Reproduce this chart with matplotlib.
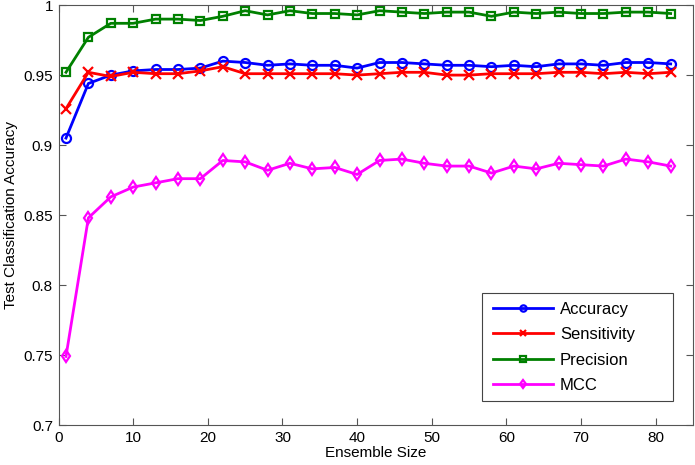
import matplotlib
matplotlib.use('Agg')
import matplotlib.pyplot as plt
from matplotlib.patches import Rectangle

plt.rcParams['font.family'] = ['Liberation Sans', 'DejaVu Sans']

# ensemble sizes
ensemble_size = [1, 4, 7, 10, 13, 16, 19, 22, 25, 28, 31, 34, 37, 40,
                 43, 46, 49, 52, 55, 58, 61, 64, 67, 70, 73, 76, 79, 82]

accuracy = [0.905, 0.944, 0.950, 0.953, 0.954, 0.954, 0.955, 0.960, 0.959, 0.957,
            0.958, 0.957, 0.957, 0.955, 0.959, 0.959, 0.958, 0.957, 0.957, 0.956,
            0.957, 0.956, 0.958, 0.958, 0.957, 0.959, 0.959, 0.958]

sensitivity = [0.926, 0.952, 0.949, 0.952, 0.951, 0.951, 0.953, 0.956, 0.951, 0.951,
               0.951, 0.951, 0.951, 0.950, 0.951, 0.952, 0.952, 0.950, 0.950, 0.951,
               0.951, 0.951, 0.952, 0.952, 0.951, 0.952, 0.951, 0.952]

precision = [0.952, 0.977, 0.987, 0.987, 0.990, 0.990, 0.989, 0.992, 0.996, 0.993,
             0.996, 0.994, 0.994, 0.993, 0.996, 0.995, 0.994, 0.995, 0.995, 0.992,
             0.995, 0.994, 0.995, 0.994, 0.994, 0.995, 0.995, 0.994]

mcc = [0.749, 0.848, 0.863, 0.870, 0.873, 0.876, 0.876, 0.889, 0.888, 0.882,
       0.887, 0.883, 0.884, 0.879, 0.889, 0.890, 0.887, 0.885, 0.885, 0.880,
       0.885, 0.883, 0.887, 0.886, 0.885, 0.890, 0.888, 0.885]

fig = plt.figure(figsize=(6.95, 4.65), dpi=100)
ax = fig.add_axes([0.0842, 0.086, 0.913, 0.903])

style = dict(linewidth=2, markersize=6.5, markeredgewidth=1.6, markerfacecolor='none')
ax.plot(ensemble_size, accuracy, color='#0000ff', marker='o', label='Accuracy', **style)
ax.plot(ensemble_size, sensitivity, color='#ff0000', marker='x', label='Sensitivity', **style)
ax.plot(ensemble_size, precision, color='#008000', marker='s', label='Precision',
        linewidth=2, markersize=5.5, markeredgewidth=1.6, markerfacecolor='none')
ax.plot(ensemble_size, mcc, color='#ff00ff', marker='d', label='MCC', **style)

ax.set_xlim(0, 85)
ax.set_ylim(0.7, 1.0)
ax.set_xticks(range(0, 90, 10))
ax.set_yticks([0.7, 0.75, 0.8, 0.85, 0.9, 0.95, 1.0])
ax.set_yticklabels(['0.7', '0.75', '0.8', '0.85', '0.9', '0.95', '1'])
ax.tick_params(direction='in', top=True, right=True, length=5, labelsize=11,
               color='#555555', pad=4)
for sp in ax.spines.values():
    sp.set_color('#555555')

ax.set_xlabel('Ensemble Size', fontsize=11, labelpad=1)
ax.set_ylabel('Test Classification Accuracy', fontsize=11, labelpad=4)

# legend box drawn by hand (MATLAB style, wider than its content)
ax.add_patch(Rectangle((0.667, 0.057), 0.3015, 0.257, transform=ax.transAxes,
                       facecolor='white', edgecolor='#444444', linewidth=0.8, zorder=4))
leg = ax.legend(loc='upper left', bbox_to_anchor=(0.6848, 0.294), fontsize=12,
                frameon=False, borderpad=0, borderaxespad=0,
                handlelength=3.6, handletextpad=0.42, labelspacing=0.63,
                markerscale=0.7)
leg.set_zorder(5)

plt.savefig('out.png', dpi=100)
